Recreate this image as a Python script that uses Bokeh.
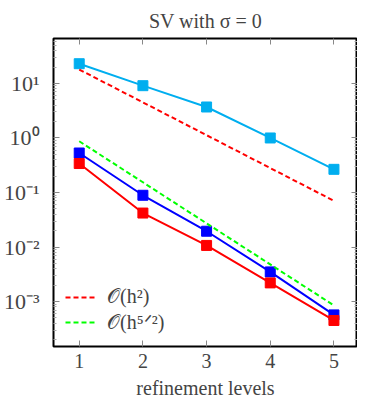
from bokeh.plotting import figure
from bokeh.models import Range1d, FixedTicker, LinearAxis, LogAxis, Legend, LegendItem, CustomJSTickFormatter
from bokeh.embed import file_html
from bokeh.resources import INLINE

levels = [1, 2, 3, 4, 5]
sv_cyan = [23.0, 9.1, 3.7, 1.0, 0.266]
sv_blue = [0.53, 0.089, 0.0195, 0.0035, 0.00057]
sv_red = [0.34, 0.042, 0.0107, 0.0022, 0.00045]
ref_h2 = [18.0, 4.5, 1.125, 0.281, 0.0703]
ref_h52 = [0.87, 0.154, 0.0272, 0.0048, 0.00085]

y_ticks = [1e-3, 1e-2, 1e-1, 1e0, 1e1]
x_ticks = [1, 2, 3, 4, 5]
minor = [m * 10.0 ** k for k in range(-4, 2) for m in range(2, 10)]

FONT = "Liberation Serif"
FS = "20px"

p = figure(frame_width=304, frame_height=308, y_axis_type="log", output_backend="svg",
           toolbar_location=None, x_range=Range1d(0.596, 5.37),
           y_range=Range1d(1.5e-4, 66.7), title="SV with σ = 0",
           min_border_left=0, min_border_right=0, min_border_top=0, min_border_bottom=0)
p.title.align = "center"
p.title.text_font = FONT
p.title.text_font_size = FS
p.title.text_font_style = "normal"
p.title.standoff = 14
p.grid.visible = False
p.outline_line_color = "black"
p.outline_line_width = 2
p.outline_line_alpha = 1

fmt = CustomJSTickFormatter(code="""
const e = Math.round(Math.log10(tick));
const sup = {'-':'\u207b','0':'\u2070','1':'\u00b9','2':'\u00b2','3':'\u00b3','4':'\u2074','5':'\u2075','6':'\u2076','7':'\u2077','8':'\u2078','9':'\u2079'};
return '10' + String(e).split('').map(c => sup[c]).join('');
""")
blank = CustomJSTickFormatter(code="return '';")

def style(ax, labels=True):
    ax.axis_line_color = None
    ax.major_tick_in = 6
    ax.major_tick_out = 0
    ax.minor_tick_in = 3
    ax.minor_tick_out = 0
    ax.major_tick_line_color = "#888888"
    ax.minor_tick_line_color = "#aaaaaa"
    ax.major_label_text_font = FONT
    ax.major_label_text_font_size = FS
    ax.axis_label_text_font = FONT
    ax.axis_label_text_font_size = FS
    ax.axis_label_text_font_style = "normal"
    if not labels:
        ax.formatter = blank
        ax.major_label_text_font_size = "1px"
        ax.major_label_standoff = 0
        ax.axis_label_standoff = 0

yt = FixedTicker(ticks=y_ticks, minor_ticks=minor)
xt = FixedTicker(ticks=x_ticks, minor_ticks=[])

p.yaxis.ticker = yt
p.yaxis.formatter = fmt
p.xaxis.ticker = xt
p.xaxis.axis_label = "refinement levels"
style(p.xaxis[0])
style(p.yaxis[0])
p.yaxis.major_label_text_font_size = "22px"
p.yaxis.major_label_standoff = 14
p.xaxis.major_label_standoff = 7
p.xaxis.axis_label_standoff = 6

ra = LogAxis(ticker=yt)
style(ra, labels=False)
ta = LinearAxis(ticker=xt)
style(ta, labels=False)
p.add_layout(ra, "right")
p.add_layout(ta, "above")

p.line(levels, sv_cyan, line_color="#00AEEF", line_width=2)
p.scatter(levels, sv_cyan, marker="square", size=10, color="#00AEEF")
p.line(levels, sv_blue, line_color="#0000FF", line_width=2)
p.scatter(levels, sv_blue, marker="square", size=10, color="#0000FF")
p.line(levels, sv_red, line_color="#FF0000", line_width=2)
p.scatter(levels, sv_red, marker="square", size=10, color="#FF0000")
r1 = p.line(levels, ref_h2, line_color="#FF0000", line_width=2, line_dash="5 3")
r2 = p.line(levels, ref_h52, line_color="#00FF00", line_width=2, line_dash="5 3")

leg = Legend(items=[LegendItem(label="𝒪(h²)", renderers=[r1]),
                    LegendItem(label="𝒪(h⁵ᐟ²)", renderers=[r2])],
             location="bottom_left", border_line_alpha=0, background_fill_alpha=0,
             label_text_font=FONT, label_text_font_size=FS,
             glyph_width=32, label_standoff=10, spacing=2, margin=4, padding=8)
p.add_layout(leg)

open("out.html", "w").write(file_html(p, INLINE))
